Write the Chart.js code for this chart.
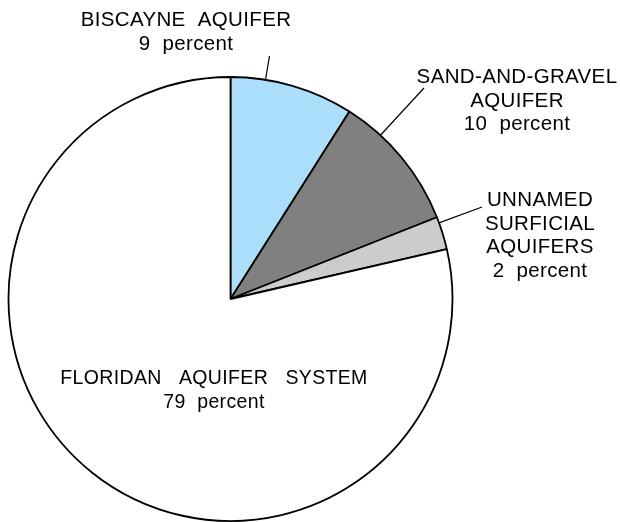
<!DOCTYPE html>
<html>
<head>
<meta charset="utf-8">
<script src="https://cdn.jsdelivr.net/npm/chart.js@4/dist/chart.umd.min.js"></script>
<style>
  body { margin: 0; background: #fff; }
  #wrap { width: 620px; height: 522px; }
</style>
</head>
<body>
<div id="wrap"><canvas id="pie" width="620" height="522"></canvas></div>
<script>
// aquifer names, share of slice and the percent printed on the label
const aquifers = ['BISCAYNE AQUIFER', 'SAND-AND-GRAVEL AQUIFER', 'UNNAMED SURFICIAL AQUIFERS', 'FLORIDAN AQUIFER SYSTEM'];
const shares = [9, 10, 2.4, 78.6];
const percentText = ['9', '10', '2', '79'];
const sliceColors = ['#abdff9', '#808080', '#cccccc', '#ffffff'];

// how each label is broken into lines
const labelLines = [
  ['BISCAYNE  AQUIFER', percentText[0] + '  percent'],
  ['SAND-AND-GRAVEL', 'AQUIFER', percentText[1] + '  percent'],
  ['UNNAMED', 'SURFICIAL', 'AQUIFERS', percentText[2] + '  percent'],
  ['FLORIDAN   AQUIFER   SYSTEM', percentText[3] + '  percent']
];

// label placement + leader lines (x,y = centre / first baseline)
const labelPos = [
  { x: 186, y: 26, size: 20.5, lead: { at: 0.28, to: [269.5, 56] } },
  { x: 517, y: 83, size: 20.5, lead: { at: 0.28, to: [424, 88] } },
  { x: 540, y: 206, size: 20.5, lead: { at: 0.18, to: [482, 207] } },
  { x: 214, y: 384, size: 19.5, lead: null }
];

const labelPlugin = {
  id: 'aquiferLabels',
  afterDatasetsDraw(chart) {
    const ctx = chart.ctx;
    const arcs = chart.getDatasetMeta(0).data;
    ctx.save();
    ctx.fillStyle = '#000';
    ctx.textAlign = 'center';
    ctx.textBaseline = 'alphabetic';
    ctx.letterSpacing = '0.35px';
    labelPos.forEach((p, i) => {
      ctx.font = p.size + 'px "Liberation Sans", Arial, sans-serif';
      labelLines[i].forEach((line, j) => {
        ctx.fillText(line, p.x, p.y + j * 23.5);
      });
      if (p.lead) {
        const a = arcs[i];
        const ang = a.startAngle + (a.endAngle - a.startAngle) * p.lead.at;
        ctx.beginPath();
        ctx.moveTo(a.x + Math.cos(ang) * a.outerRadius, a.y + Math.sin(ang) * a.outerRadius);
        ctx.lineTo(p.lead.to[0], p.lead.to[1]);
        ctx.strokeStyle = '#000';
        ctx.lineWidth = 1.2;
        ctx.stroke();
      }
    });
    ctx.restore();
  }
};

new Chart(document.getElementById('pie').getContext('2d'), {
  type: 'pie',
  data: {
    labels: aquifers,
    datasets: [{
      data: shares,
      backgroundColor: sliceColors,
      borderColor: '#000',
      borderWidth: 1.8
    }]
  },
  options: {
    responsive: false,
    animation: false,
    events: [],
    radius: 222,
    layout: { padding: { left: 0, right: 159, top: 76, bottom: 0 } },
    plugins: {
      legend: { display: false },
      tooltip: { enabled: false }
    }
  },
  plugins: [labelPlugin]
});
</script>
</body>
</html>
